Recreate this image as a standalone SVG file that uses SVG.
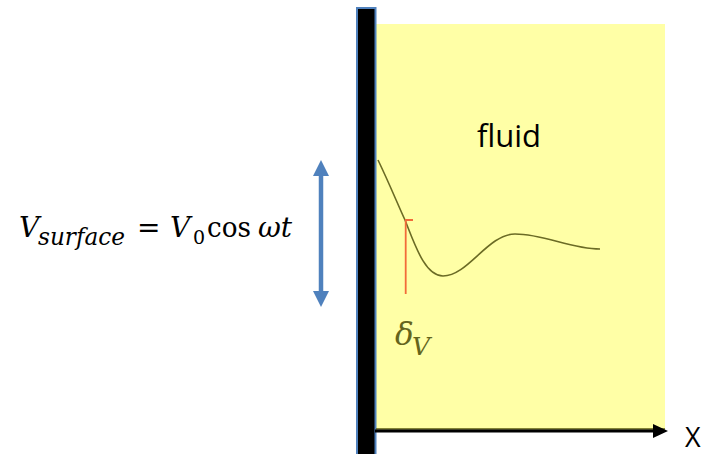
<svg xmlns="http://www.w3.org/2000/svg" width="714" height="454" viewBox="0 0 714 454">
<style>
.eq{font-family:"DejaVu Serif","Liberation Serif",serif;fill:#000}
.it{font-style:italic}
.lbl{font-family:"Open Sans","Liberation Sans",sans-serif;fill:#000}
.olive{fill:#64641c}
</style>
<defs>
<marker id="blueHead" viewBox="0 0 16 16" refX="2" refY="8" markerWidth="16" markerHeight="16" markerUnits="userSpaceOnUse" orient="auto-start-reverse">
<path d="M0,0 L16,8 L0,16 Z" fill="#4f81bd"/>
</marker>
<marker id="blackHead" viewBox="0 0 15 14" refX="2" refY="7" markerWidth="15" markerHeight="14" markerUnits="userSpaceOnUse" orient="auto">
<path d="M0,0 L15,7 L0,14 Z" fill="#000"/>
</marker>
</defs>
<rect width="714" height="454" fill="#fff"/>
<g id="fluid">
<rect x="376" y="24" width="289" height="405" fill="#ffffa6"/>
<text class="lbl" x="477" y="147" font-size="31">fluid</text>
</g>
<g id="wall">
<rect x="357" y="8" width="18.5" height="460" fill="#000" stroke="#4f81bd" stroke-width="2"/>
</g>
<g id="profile">
<path d="M378,160 C390,185 398,205 405,220 C415,245 425,276 443,276 C468,276 488,234 515,234 C545,234 570,249 600,249" fill="none" stroke="#6b6b25" stroke-width="1.6"/>
<path d="M405.7,294 V220 H413" fill="none" stroke="#f26b3a" stroke-width="1.8"/>
<text class="eq it olive" x="395" y="345" font-size="31">δ<tspan font-size="25" x="412" y="355">V</tspan></text>
</g>
<g id="equation">
<text class="eq it" x="19" y="237" font-size="28">V</text>
<text class="eq it" x="38" y="245" font-size="24" textLength="87" lengthAdjust="spacingAndGlyphs">surface</text>
<text class="eq" x="137" y="237" font-size="28">=</text>
<text class="eq it" x="170" y="237" font-size="28">V</text>
<text class="eq" x="193" y="244" font-size="19">0</text>
<text class="eq" x="207" y="237" font-size="28" textLength="44" lengthAdjust="spacingAndGlyphs">cos</text>
<text class="eq it" x="258" y="237" font-size="28">ωt</text>
</g>
<g id="connectors">
<line x1="321" y1="174" x2="321" y2="293" stroke="#4f81bd" stroke-width="4.5" marker-start="url(#blueHead)" marker-end="url(#blueHead)"/>
<line x1="376" y1="429" x2="665" y2="429" stroke="#5a5a10" stroke-width="1.5"/>
<line x1="375" y1="431" x2="655" y2="431" stroke="#000" stroke-width="3" marker-end="url(#blackHead)"/>
</g>
<g id="axis-label">
<text class="lbl" x="685" y="447" font-size="27" font-family="Liberation Sans, sans-serif">X</text>
</g>
</svg>
